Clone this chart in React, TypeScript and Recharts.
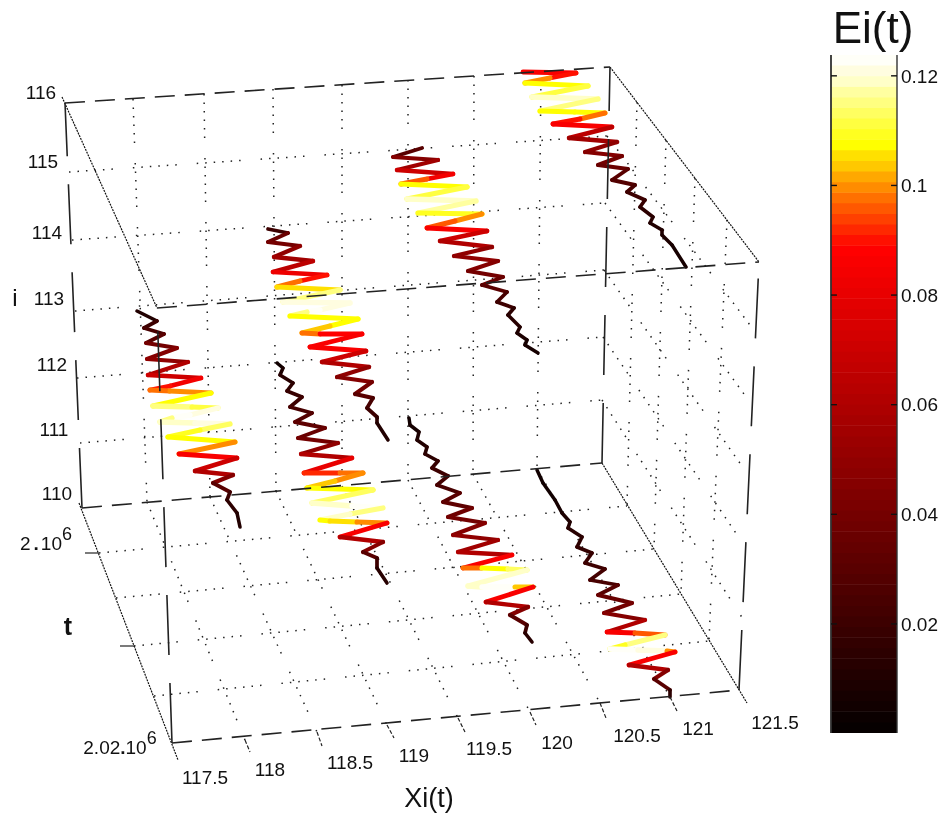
import { LineChart, Line, XAxis, YAxis, ReferenceDot, ReferenceArea } from 'recharts';

type Vertex = [number, number, number];
type Seg = [number, number, number, number];

// trajectories as [screen x, screen y, Ei(t)]
const chain1: Vertex[] = [
  [523, 72, 0.087], [576, 73, 0.089], [550, 78, 0.1], [525, 83, 0.107], [588, 86, 0.112], [532, 97, 0.118],
  [598, 99, 0.116], [540, 111, 0.108], [575, 112, 0.107], [605, 113, 0.098], [580, 119, 0.09], [553, 124, 0.087],
  [612, 127, 0.065], [569, 138, 0.055], [617, 142, 0.05], [585, 152, 0.045], [622, 156, 0.04], [598, 165, 0.035],
  [628, 169, 0.03], [612, 180, 0.028], [635, 185, 0.025], [627, 192, 0.02], [645, 200, 0.018], [640, 207, 0.015],
  [653, 217, 0.012], [650, 223, 0.01], [662, 230, 0.01], [662, 235, 0.008], [672, 245, 0.006], [686, 267, 0.005],
];
const chain2: Vertex[] = [
  [422, 148, 0.03], [393, 157, 0.045], [438, 160, 0.055], [397, 170, 0.07], [453, 174, 0.085], [427, 179, 0.095],
  [401, 184, 0.108], [467, 187, 0.112], [407, 199, 0.118], [476, 201, 0.117], [418, 213, 0.11], [482, 214, 0.1],
  [455, 221, 0.095], [427, 228, 0.087], [487, 231, 0.07], [440, 241, 0.06], [492, 247, 0.05], [454, 256, 0.05],
  [498, 261, 0.045], [468, 271, 0.04], [503, 277, 0.035], [482, 285, 0.03], [507, 292, 0.025], [497, 302, 0.02],
  [514, 308, 0.015], [508, 315, 0.012], [520, 327, 0.01], [517, 333, 0.008], [527, 340, 0.007], [525, 345, 0.006],
  [538, 353, 0.005],
];
const chain3: Vertex[] = [
  [268, 229, 0.02], [288, 233, 0.035], [268, 242, 0.04], [300, 246, 0.05], [274, 257, 0.055], [313, 261, 0.065],
  [273, 272, 0.083], [327, 275, 0.09], [300, 281, 0.097], [277, 287, 0.105], [340, 290, 0.115], [283, 302, 0.12],
  [350, 303, 0.12], [320, 310, 0.123], [307, 312, 0.115], [290, 316, 0.108], [358, 319, 0.107], [330, 326, 0.104],
  [302, 333, 0.098], [320, 334, 0.088], [362, 334, 0.087], [310, 347, 0.087], [366, 351, 0.07], [322, 362, 0.06],
  [369, 367, 0.05], [337, 377, 0.045], [372, 382, 0.04], [355, 394, 0.03], [373, 398, 0.025], [367, 408, 0.02],
  [377, 417, 0.015], [377, 423, 0.01], [388, 440, 0.005],
];
const chain4: Vertex[] = [
  [137, 311, 0.01], [157, 321, 0.02], [144, 328, 0.025], [164, 334, 0.03], [146, 343, 0.04], [177, 348, 0.045],
  [147, 359, 0.05], [188, 362, 0.06], [148, 375, 0.07], [201, 378, 0.085], [170, 386, 0.09], [150, 390, 0.098],
  [170, 391, 0.1], [211, 393, 0.108], [153, 406, 0.116], [192, 407, 0.112], [218, 408, 0.121], [190, 415, 0.123],
  [172, 418, 0.115], [160, 422, 0.118], [195, 423, 0.12], [230, 424, 0.113], [200, 430, 0.11], [168, 437, 0.108],
  [235, 442, 0.1], [179, 454, 0.087], [237, 458, 0.07], [195, 471, 0.06], [233, 475, 0.045], [213, 483, 0.03],
  [230, 492, 0.02], [227, 500, 0.015], [237, 513, 0.01], [240, 527, 0.005],
];
const chain5: Vertex[] = [
  [277, 363, 0.005], [283, 368, 0.008], [280, 375, 0.012], [293, 383, 0.015], [287, 391, 0.018], [302, 397, 0.02],
  [290, 407, 0.025], [312, 413, 0.028], [295, 422, 0.032], [325, 428, 0.035], [298, 438, 0.04], [338, 443, 0.05],
  [301, 454, 0.06], [352, 458, 0.08], [304, 473, 0.092], [340, 473, 0.098], [363, 473, 0.1], [335, 481, 0.103],
  [307, 488, 0.108], [373, 490, 0.113], [312, 503, 0.118], [352, 506, 0.123], [383, 508, 0.115], [350, 514, 0.118],
  [320, 520, 0.108], [330, 521, 0.105], [357, 522, 0.1], [387, 523, 0.087], [340, 537, 0.06], [383, 542, 0.045],
  [363, 552, 0.03], [377, 558, 0.02], [377, 568, 0.012], [387, 583, 0.005],
];
const chain6: Vertex[] = [
  [409, 418, 0.005], [410, 425, 0.006], [419, 432, 0.008], [417, 440, 0.01], [427, 447, 0.012], [425, 454, 0.015],
  [438, 461, 0.018], [432, 468, 0.02], [448, 476, 0.022], [437, 485, 0.025], [460, 493, 0.03], [443, 502, 0.032],
  [472, 508, 0.038], [448, 517, 0.04], [485, 523, 0.045], [453, 535, 0.05], [498, 540, 0.055], [458, 552, 0.06],
  [512, 555, 0.087], [463, 568, 0.097], [482, 568, 0.107], [508, 569, 0.114], [527, 570, 0.118], [468, 586, 0.118],
  [482, 587, 0.123], [515, 587, 0.103], [533, 587, 0.087], [486, 602, 0.06], [528, 607, 0.045], [510, 615, 0.03],
  [527, 625, 0.02], [525, 633, 0.012], [532, 642, 0.005],
];
const chain7: Vertex[] = [
  [537, 470, 0.004], [543, 483, 0.005], [555, 500, 0.006], [562, 513, 0.008], [570, 522, 0.01], [568, 528, 0.012],
  [582, 537, 0.014], [577, 547, 0.016], [592, 553, 0.018], [585, 563, 0.02], [605, 569, 0.022], [590, 580, 0.025],
  [618, 585, 0.03], [598, 595, 0.035], [632, 603, 0.04], [604, 613, 0.045], [645, 620, 0.06], [607, 632, 0.087],
  [635, 633, 0.095], [665, 635, 0.115], [625, 645, 0.11], [610, 649, 0.123], [638, 650, 0.12], [667, 651, 0.1],
  [675, 652, 0.087], [629, 665, 0.06], [668, 670, 0.045], [654, 679, 0.03], [670, 690, 0.015], [670, 697, 0.005],
];
const chains = [chain1, chain2, chain3, chain4, chain5, chain6, chain7];

// box edges of the 3D axes
const dashedEdges: Seg[] = [
  [65, 103, 610, 67], [157, 308, 759, 262], [82, 508, 602, 463], [172, 743, 739, 690],
];
const longDashEdges: Seg[] = [
  [82, 508, 65, 103], [172, 743, 157, 308], [602, 463, 610, 67], [739, 690, 759, 262],
];
const fineEdges: Seg[] = [
  [62, 97, 157, 308], [79, 503, 178, 760], [610, 67, 759, 262], [602, 463, 747, 703],
];
const gridSegs: Seg[] = [
  // back wall, Xi(t) = const
  [133, 99, 147, 502], [204, 94, 210, 497], [273, 89, 276, 491], [342, 85, 342, 486],
  [408, 80, 408, 480], [474, 76, 473, 474], [541, 72, 537, 469],
  // back wall, i = const
  [69, 172, 607, 136], [72, 240, 605, 203], [75, 311, 604, 270], [77, 378, 603, 337], [80, 443, 602, 400],
  // floor, Xi(t) = const
  [147, 502, 245, 740], [210, 497, 317, 732], [276, 491, 387, 725], [342, 486, 458, 718],
  [408, 480, 530, 712], [473, 474, 600, 703], [537, 469, 670, 697],
  // floor, t = const
  [99, 553, 627, 506], [116, 598, 654, 549], [134, 646, 681, 594], [154, 696, 709, 641],
  // side wall, t = const
  [637, 102, 627, 506], [666, 140, 654, 549], [695, 178, 681, 594], [727, 220, 709, 641],
  // side wall, i = const
  [607, 136, 756, 333], [605, 203, 752, 405], [604, 270, 749, 476], [603, 337, 746, 548], [602, 400, 743, 619],
];
const tickSegs: Seg[] = [
  [245, 740, 250, 752], [317, 732, 322, 746], [387, 725, 394, 738], [458, 718, 465, 732],
  [530, 712, 536, 725], [600, 703, 606, 718], [670, 697, 677, 711],
  [85, 553, 99, 553], [120, 646, 134, 646],
];

const xLabels: [string, number, number][] = [
  ['117.5', 205, 777], ['118', 270, 769], ['118.5', 350, 762], ['119', 414, 755], ['119.5', 489, 748],
  ['120', 557, 742], ['120.5', 637, 735], ['121', 698, 728], ['121.5', 775, 722],
];
const iLabels: [string, number, number][] = [
  ['116', 41, 92], ['115', 43, 161], ['114', 47, 232], ['113', 49, 298], ['112', 52, 364], ['111', 54, 429], ['110', 57, 493],
];
const energyTicks = [0.02, 0.04, 0.06, 0.08, 0.1, 0.12];
const energyMin = 0.0001;
const energyMax = 0.1238;

// colour bar, bottom band first
const bandColors = [
  '#060000', '#0b0000', '#110000', '#160000', '#1c0000', '#210000', '#270000', '#2c0000',
  '#320000', '#370000', '#3d0000', '#430000', '#480000', '#4e0000', '#530000', '#590000',
  '#5e0000', '#640000', '#690000', '#6f0000', '#740000', '#7a0000', '#7f0000', '#850000',
  '#8b0000', '#900000', '#960000', '#9b0000', '#a10000', '#a60000', '#ac0000', '#b10000',
  '#b70000', '#bc0000', '#c20000', '#c70000', '#cd0000', '#d30000', '#d80000', '#de0000',
  '#e30000', '#e90000', '#ee0000', '#f40000', '#f90000', '#ff0000', '#ff1000', '#ff2800',
  '#ff4000', '#ff5800', '#ff7000', '#ff8c00', '#ffa800', '#ffc800', '#ffe000', '#ffff00',
  '#ffff20', '#ffff40', '#ffff60', '#ffff80', '#ffffa0', '#ffffc8', '#fffde0', '#fffff8',
];

const FONT = '"Liberation Sans", Arial, sans-serif';
const W = 946;
const H = 817;
const barMargin = { top: 55, right: 49, bottom: 84, left: 831 };

function colorOf(e: number) {
  const k = Math.min(63, Math.floor((e / energyMax) * 64));
  return bandColors[k];
}

function segLine(s: Seg, key: string, stroke: string, width: number, dash?: string) {
  return (
    <Line
      key={key}
      data={[{ x: s[0], y: s[1] }, { x: s[2], y: s[3] }]}
      dataKey="y"
      stroke={stroke}
      strokeWidth={width}
      strokeDasharray={dash}
      dot={false}
      activeDot={false}
      legendType="none"
      isAnimationActive={false}
    />
  );
}

function label(key: string, x: number, y: number, content: React.ReactNode, size = 19, weight = 400) {
  return (
    <ReferenceDot
      key={key}
      x={x}
      y={y}
      r={0}
      ifOverflow="visible"
      shape={(p: { cx?: number; cy?: number }) => (
        <text
          x={p.cx}
          y={p.cy}
          textAnchor="middle"
          dominantBaseline="central"
          fontFamily={FONT}
          fontSize={size}
          fontWeight={weight}
          fill="#111"
        >
          {content}
        </text>
      )}
    />
  );
}

function Scene() {
  const segments = chains.flatMap((chain, c) =>
    chain.slice(0, -1).map((v, i) => {
      const next = chain[i + 1];
      return (
        <Line
          key={`c${c}-${i}`}
          data={[{ x: v[0], y: v[1] }, { x: next[0], y: next[1] }]}
          dataKey="y"
          stroke={colorOf(v[2])}
          strokeWidth={3.4 + v[2] * 16}
          strokeLinecap="round"
          dot={false}
          activeDot={false}
          legendType="none"
          isAnimationActive={false}
        />
      );
    }),
  );

  return (
    <LineChart width={W} height={H} margin={{ top: 0, right: 0, bottom: 0, left: 0 }}>
      <XAxis dataKey="x" type="number" domain={[0, W]} hide />
      <YAxis type="number" domain={[0, H]} reversed hide width={0} />
      {gridSegs.map((s, i) => segLine(s, `g${i}`, '#222', 1.5, '1.5 7 1.5 7 1.5 7 1.5 7 1.5 7 1.5 20'))}
      {segments}
      {fineEdges.map((s, i) => segLine(s, `f${i}`, '#111', 1.2, '2 1'))}
      {dashedEdges.map((s, i) => segLine(s, `d${i}`, '#222', 1.6, '20 10'))}
      {longDashEdges.map((s, i) => segLine(s, `l${i}`, '#222', 1.6, '60 28'))}
      {tickSegs.map((s, i) => segLine(s, `t${i}`, '#222', 1.2, i < 7 ? '4 2' : undefined))}
      {xLabels.map(([t, x, y]) => label(`x${t}`, x, y, t))}
      {iLabels.map(([t, x, y]) => label(`i${t}`, x, y, t))}
      {label('tA', 46, 543, (
        <>
          2<tspan dx={3} fontWeight={700}>.</tspan><tspan dx={2}>10</tspan><tspan dy={-9} fontSize={18}>6</tspan>
        </>
      ))}
      {label('tB', 120, 747, (
        <>
          2.02<tspan fontWeight={700}>.</tspan>10<tspan dy={-9} fontSize={18}>6</tspan>
        </>
      ))}
      {label('iName', 15, 297, 'i', 24, 400)}
      {label('tName', 68, 626, 't', 25, 700)}
      {label('xName', 429, 798, 'Xi(t)', 27)}
      {label('eName', 873, 27, 'Ei(t)', 44)}
    </LineChart>
  );
}

function rule(key: string, x1: number, y1: number, x2: number, y2: number, color: string) {
  return (
    <Line
      key={key}
      data={[{ x: x1, y: y1 }, { x: x2, y: y2 }]}
      dataKey="y"
      stroke={color}
      strokeWidth={1.4}
      dot={false}
      activeDot={false}
      legendType="none"
      isAnimationActive={false}
    />
  );
}

function ColorBar() {
  const step = (energyMax - energyMin) / bandColors.length;
  return (
    <LineChart width={W} height={H} margin={{ ...barMargin, right: 0 }}>
      <XAxis type="number" dataKey="x" domain={[0, 1]} hide />
      <YAxis
        type="number"
        orientation="right"
        width={49}
        domain={[energyMin, energyMax]}
        ticks={energyTicks}
        interval={0}
        tickSize={0}
        tickMargin={4}
        axisLine={false}
        tickLine={false}
        tick={{ fontFamily: FONT, fontSize: 19, fill: '#111' }}
      />
      {bandColors.map((c, k) => (
        <ReferenceArea
          key={c}
          x1={0}
          x2={1}
          y1={energyMin + k * step}
          y2={Math.min(energyMax, energyMin + (k + 1.05) * step)}
          fill={c}
          fillOpacity={1}
          stroke="none"
        />
      ))}
      {rule('left', 0, energyMin, 0, energyMax, '#333')}
    </LineChart>
  );
}

// box and ticks go in their own chart, the bands would cover them otherwise
function ColorBarFrame() {
  return (
    <LineChart width={W} height={H} margin={barMargin}>
      <XAxis type="number" dataKey="x" domain={[0, 1]} hide />
      <YAxis type="number" domain={[energyMin, energyMax]} hide width={0} />
      {rule('left', 0, energyMin, 0, energyMax, '#333')}
      {rule('right', 1, energyMin, 1, energyMax, '#333')}
      {energyTicks.flatMap((v) => [
        rule(`l${v}`, 0, v, 0.09, v, '#111'),
        rule(`r${v}`, 0.91, v, 1, v, '#111'),
      ])}
    </LineChart>
  );
}

export default function App() {
  return (
    <div style={{ position: 'absolute', left: 0, top: 0, width: W, height: H, background: '#fff', filter: 'blur(0.35px)' }}>
      <div style={{ position: 'absolute', left: 0, top: 0 }}>
        <ColorBar />
      </div>
      <div style={{ position: 'absolute', left: 0, top: 0 }}>
        <ColorBarFrame />
      </div>
      <div style={{ position: 'absolute', left: 0, top: 0 }}>
        <Scene />
      </div>
    </div>
  );
}
